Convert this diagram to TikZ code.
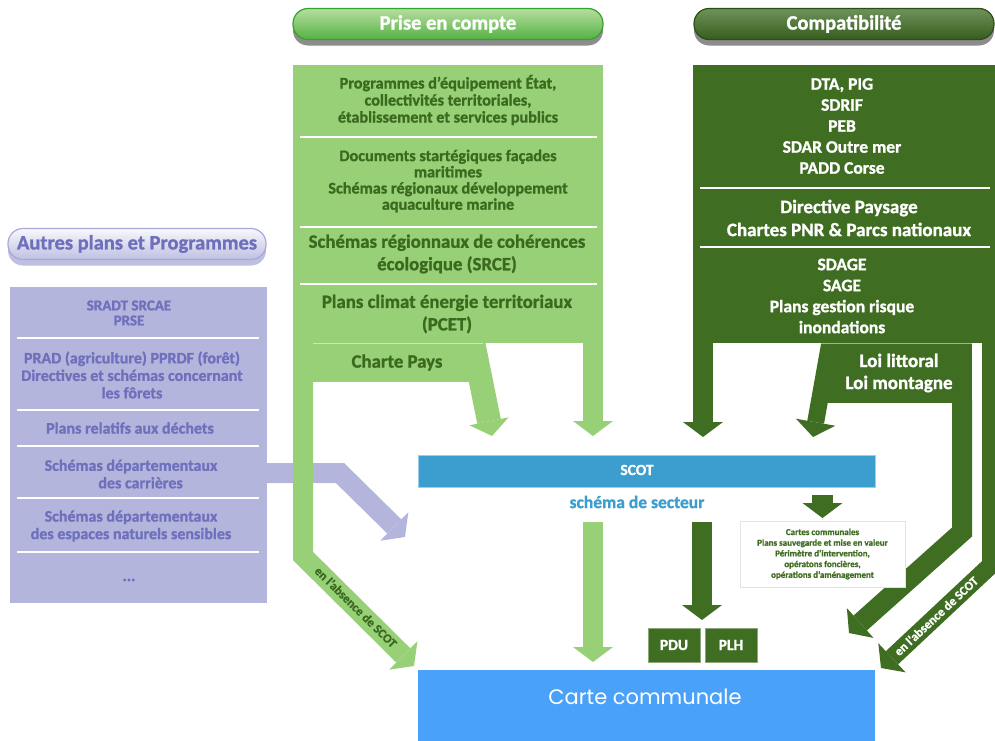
\documentclass[tikz,border=0pt]{standalone}
\usepackage{fontspec}
\setmainfont{Carlito}[BoldFeatures={FakeBold=1.2}]
\newfontfamily\popfont{Poppins}
\usetikzlibrary{arrows.meta,shadows}
\definecolor{lgreen}{HTML}{97D077}
\definecolor{dgreen}{HTML}{3F6E22}
\definecolor{lgtext}{HTML}{3B6A1F}
\definecolor{lav}{HTML}{B4B5DD}
\definecolor{lavtext}{HTML}{6E70BC}
\definecolor{scotblue}{HTML}{3C9ECE}
\definecolor{cartblue}{HTML}{4AA1FA}
\begin{document}
\begin{tikzpicture}[x=1pt,y=-1pt,
  box/.style={inner sep=0pt,outer sep=0pt},
  bigarrow/.style={line width=20pt,line join=miter,-{Triangle[width=40pt,length=15pt,line width=0pt]}},
  lgtxt/.style={text=lgtext,align=center,inner sep=0pt,font=\fontsize{16.2}{17}\selectfont\bfseries},
  lgbig/.style={text=lgtext,align=center,inner sep=0pt,font=\fontsize{18.8}{22.5}\selectfont\bfseries},
  dgtxt/.style={text=white,align=center,inner sep=0pt,font=\fontsize{17.5}{21}\selectfont\bfseries},
  lavtxt/.style={text=lavtext,align=center,inner sep=0pt,font=\fontsize{16}{17.5}\selectfont\bfseries},
  divider/.style={white,line width=1.6pt},
  btn/.style={rounded corners=15pt,minimum height=31pt,inner sep=0pt,line width=1.2pt,font=\fontsize{20.5}{20.5}\selectfont\bfseries},
  absence/.style={font=\fontsize{12.5}{12.5}\selectfont\bfseries,inner sep=0pt},
  smallbox/.style={box,fill=dgreen,draw=dgreen!60!white,line width=1pt,minimum width=52pt,minimum height=34pt,text=white,font=\fontsize{15.5}{15.5}\selectfont\bfseries},
]
\useasboundingbox (0,0) rectangle (995,740);

% ---- header buttons
\node[btn,minimum width=310pt,top color=lgreen!70!white,bottom color=lgreen!70!green!80!black,draw=lgreen!50!green!70!black,text=white,
  drop shadow={shadow xshift=0pt,shadow yshift=-6pt,opacity=.45,fill=black}] (bprise) at (448,24) {Prise en compte};
\node[btn,minimum width=300pt,top color=dgreen!75!white,bottom color=dgreen!85!black,draw=dgreen!70!black,text=white,
  drop shadow={shadow xshift=0pt,shadow yshift=-6pt,opacity=.45,fill=black}] (bcompat) at (844,24) {Compatibilité};
\node[btn,minimum width=258pt,top color=white!90!lav,bottom color=lav!85!white,draw=lavtext!60!white,text=lavtext,
  drop shadow={shadow xshift=0pt,shadow yshift=-6pt,opacity=.45,fill=lavtext}] (bautres) at (137,244) {Autres plans et Programmes};

% ---- columns
\node[box,fill=lgreen,minimum width=310pt,minimum height=278pt] (lg) at (448,204) {};
\node[box,fill=dgreen,minimum width=302pt,minimum height=278pt] (dg) at (844,204) {};
\node[box,fill=lav,minimum width=257pt,minimum height=316pt] (lav) at (138.5,445) {};

% ---- lavender arrow
\coordinate (lavB) at (340,473);
\coordinate (lavC) at (405,537);
\draw[bigarrow,lav] ([xshift=-2pt]lav.east |- lavB) -- (lavB) -- (lavC);

% ---- light green legs
\coordinate (lgL0) at (303,341);
\coordinate (lgL1) at (303,556);
\coordinate (lgL2) at (414,666);
\draw[bigarrow,lgreen] (lgL0) -- (lgL1) -- (lgL2);
\coordinate (lgR0) at (593,341);
\coordinate (lgR1) at (593,436);
\draw[bigarrow,lgreen] (lgR0) -- (lgR1);

% Charte Pays
\node[box,fill=lgreen,minimum width=168pt,minimum height=39pt,anchor=north west,lgbig] (charte) at (313,343) {Charte Pays};
\coordinate (ch0) at (473,342);
\coordinate (ch1) at (492,436);
\draw[bigarrow,lgreen,line width=24pt] (ch0) -- (ch1);
\draw[white,opacity=.5,line width=.8pt] (charte.north west) -- (483,343);

% ---- dark green legs
\coordinate (dgL0) at (703,341);
\coordinate (dgL1) at (703,437);
\draw[bigarrow,dgreen] (dgL0) -- (dgL1);
\node[box,fill=dgreen,minimum width=146pt,minimum height=60pt,anchor=north west,dgtxt,font=\fontsize{19}{22}\selectfont\bfseries] (loi) at (826,343) {Loi littoral\\Loi montagne};
\coordinate (lo0) at (830,342);
\coordinate (lo1) at (813,437);
\draw[bigarrow,dgreen,line width=17pt] (lo0) -- (lo1);
\draw[white,opacity=.5,line width=.8pt] (821,343) -- (loi.north east);
\coordinate (in0) at (962,400);
\coordinate (in1) at (962,532);
\coordinate (in2) at (849,633);
\draw[bigarrow,dgreen] (in0) -- (in1) -- (in2);
\coordinate (out0) at (991,341);
\coordinate (out1) at (991,565);
\coordinate (out2) at (881,668);
\draw[bigarrow,dgreen,line width=18pt] (out0) -- (out1) -- (out2);

% ---- light green texts
\node[lgtxt] (t1) at (448,100) {Programmes d’équipement État,\\collectivités territoriales,\\établissement et services publics};
\draw[divider] (300,137) -- (597,137);
\node[lgtxt,font=\fontsize{16.2}{16.2}\selectfont\bfseries] (t2) at (448,181) {Documents startégiques façades\\maritimes\\Schémas régionaux développement\\aquaculture marine};
\draw[divider] (300,227) -- (597,227);
\node[lgbig] (t3) at (447,254) {Schémas régionnaux de cohérences\\écologique (SRCE)};
\draw[divider] (300,284) -- (597,284);
\node[lgbig] (t4) at (447,314) {Plans climat énergie territoriaux\\(PCET)};

% ---- dark green texts
\node[dgtxt] (d1) at (842,126) {DTA, PIG\\SDRIF\\PEB\\SDAR Outre mer\\PADD Corse};
\draw[divider] (700,188) -- (990,188);
\node[dgtxt,font=\fontsize{19}{23}\selectfont\bfseries] (d2) at (849,218) {Directive Paysage\\Chartes PNR \& Parcs nationaux};
\draw[divider] (700,247) -- (990,247);
\node[dgtxt] (d3) at (842,296) {SDAGE\\SAGE\\Plans gestion risque\\inondations};

% ---- lavender texts
\node[lavtxt,font=\fontsize{15}{15}\selectfont\bfseries] (l1) at (129,313) {SRADT SRCAE\\PRSE};
\draw[divider] (17,338) -- (259,338);
\node[lavtxt] (l2) at (132,375) {PRAD (agriculture) PPRDF (forêt)\\Directives et schémas concernant\\les fôrets};
\draw[divider] (17,410) -- (259,410);
\node[lavtxt] (l3) at (130,428) {Plans relatifs aux déchets};
\draw[divider] (17,446) -- (259,446);
\node[lavtxt] (l4) at (131,474) {Schémas départementaux\\\hspace*{1.2em}des carrières};
\draw[divider] (17,498) -- (259,498);
\node[lavtxt] (l5) at (131,526) {Schémas départementaux\\des espaces naturels sensibles};
\draw[divider] (17,552) -- (259,552);
\node[lavtxt] (l6) at (129,580) {...};

% ---- SCOT
\node[box,fill=scotblue,draw=scotblue!50!white,line width=.8pt,minimum width=457pt,minimum height=32pt] (scot) at (646.5,471) {};
\node[text=white,font=\fontsize{15.5}{15.5}\selectfont\bfseries,inner sep=0pt] (scottxt) at (637,470) {SCOT};
\node[text=scotblue,font=\fontsize{17.5}{17.5}\selectfont\bfseries,inner sep=0pt] (secteur) at (637,502) {schéma de secteur};

\coordinate (sg0) at (593,522);
\coordinate (sg1) at (593,662);
\draw[bigarrow,lgreen] (sg0) -- (sg1);
\coordinate (sd0) at (702,522);
\coordinate (sd1) at (702,620);
\draw[bigarrow,dgreen] (sd0) -- (sd1);
\coordinate (sc0) at (822.5,495);
\coordinate (sc1) at (822.5,518);
\draw[bigarrow,dgreen,line width=21pt] (sc0) -- (sc1);

\node[box,fill=white,draw=lgreen!30!gray!25,line width=1pt,minimum width=165pt,minimum height=66pt,text=dgreen,align=center,
  font=\fontsize{9}{10.7}\selectfont\bfseries] (cc) at (822.5,554) {Cartes communales\\Plans sauvegarde et mise en valeur\\Périmètre d’intervention,\\opératons foncières,\\opérations d’aménagement};

\node[smallbox] (pdu) at (674,645) {PDU};
\node[smallbox] (plh) at (731,645) {PLH};

% ---- Carte communale
\node[box,fill=cartblue,minimum width=457pt,minimum height=72pt,anchor=north west] (carte) at (418,670) {};
\node[text=white,font=\popfont\fontsize{21}{21}\selectfont,inner sep=0pt] (cartetxt) at (645,697) {Carte communale};

% ---- absence labels
\node[absence,text=lgtext,rotate=-44.5] (abs1) at (356,607) {en l’absence de SCOT};
\node[absence,text=white,rotate=43] (abs2) at (936,616) {en l’absence de SCOT};
\end{tikzpicture}
\end{document}
